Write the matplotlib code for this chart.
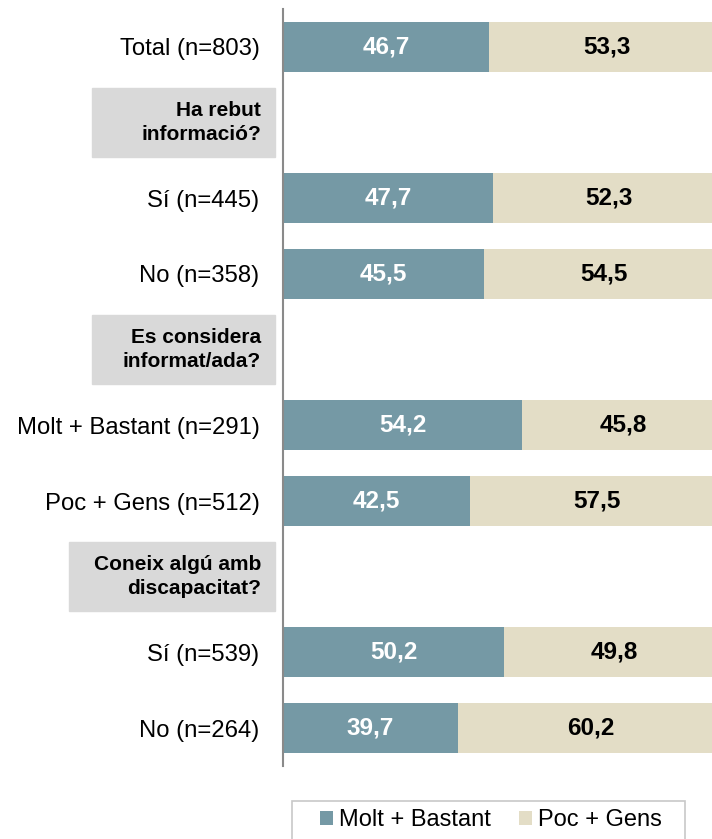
import numpy as np
import matplotlib.pyplot as plt
from matplotlib.patches import Rectangle
from matplotlib.transforms import blended_transform_factory

plt.rcParams['font.family'] = ['Liberation Sans', 'DejaVu Sans']

# data (rows from top to bottom, headers have no bars)
rows = ['Total (n=803)', 'Ha rebut\ninformació?', 'Sí (n=445)', 'No (n=358)',
        'Es considera\ninformat/ada?', 'Molt + Bastant (n=291)', 'Poc + Gens (n=512)',
        'Coneix algú amb\ndiscapacitat?', 'Sí (n=539)', 'No (n=264)']
is_header = [False, True, False, False, True, False, False, True, False, False]
molt = [46.7, None, 47.7, 45.5, None, 54.2, 42.5, None, 50.2, 39.7]
poc = [53.3, None, 52.3, 54.5, None, 45.8, 57.5, None, 49.8, 60.2]
series = ['Molt + Bastant', 'Poc + Gens']

teal = '#7599A5'
beige = '#E3DDC6'
grey_box = '#D9D9D9'

W, H = 712, 839
fig = plt.figure(figsize=(W / 100, H / 100), dpi=100)
# axes: 0..100 spans 441 px, so the right part runs past the figure edge
ax = fig.add_axes([283 / W, 1 - 766 / H, 441 / W, (766 - 9) / H])

idx = [i for i, h in enumerate(is_header) if not h]
hdr = [i for i, h in enumerate(is_header) if h]
m = np.array([molt[i] for i in idx])
p = np.array([poc[i] for i in idx])

b1 = ax.barh(idx, m, height=0.66, color=teal, label=series[0])
b2 = ax.barh(idx, p, left=m, height=0.66, color=beige, label=series[1])

for i, a, b in zip(idx, m, p):
    ax.text(a / 2, i, f'{a:.1f}'.replace('.', ','), ha='center', va='center',
            color='white', fontweight='bold', fontsize=17.5)
    ax.text(a + b / 2, i, f'{b:.1f}'.replace('.', ','), ha='center', va='center',
            color='black', fontweight='bold', fontsize=17.5)

ax.set_xlim(0, 100)
ax.set_ylim(9.5, -0.5)
ax.set_yticks(idx, [rows[i] for i in idx], fontsize=17.2)
ax.tick_params(axis='y', length=0, pad=17)
ax.set_xticks([])
for s in ['top', 'right', 'bottom']:
    ax.spines[s].set_visible(False)
ax.spines['left'].set_color('#8A8A8A')
ax.spines['left'].set_linewidth(1.5)

# grey header boxes
trans = blended_transform_factory(ax.transAxes, ax.transData)
box_left = {1: 92, 4: 92, 7: 69}
for i in hdr:
    x0 = (box_left[i] - 283) / 441
    x1 = (275 - 283) / 441
    ax.add_patch(Rectangle((x0, i - 0.46), x1 - x0, 0.91, transform=trans,
                           color=grey_box, clip_on=False, zorder=0))
    ax.text((261 - 283) / 441, i, rows[i], transform=trans, ha='right',
            va='center', fontweight='bold', fontsize=15, linespacing=1.3)

# legend with a frame running off the bottom
fig.add_artist(Rectangle((292 / W, -0.05), (685 - 292) / W, (1 - 801 / H) + 0.05,
                         transform=fig.transFigure, fill=False,
                         edgecolor='#C8C8C8', linewidth=1.2))
fig.legend([b1, b2], series, loc='upper left', bbox_to_anchor=(320 / W, 1 - 809 / H),
           frameon=False, ncol=2, fontsize=17, handlelength=0.55, handleheight=0.55,
           handletextpad=0.25, columnspacing=1.2, borderpad=0, borderaxespad=0)

fig.savefig('out.png', dpi=100)
